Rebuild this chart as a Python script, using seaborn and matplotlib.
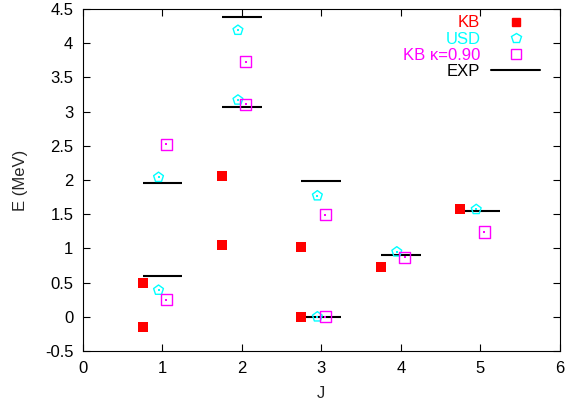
import matplotlib
matplotlib.use("Agg")
import matplotlib.pyplot as plt
import seaborn as sns
import pandas as pd
import numpy as np
from matplotlib.lines import Line2D

# Data
J_kb = [1, 1, 2, 2, 3, 3, 4, 5]
E_kb = [0.49, -0.15, 2.06, 1.05, 1.02, 0.0, 0.73, 1.57]
J_usd = [1, 1, 2, 2, 3, 3, 4, 5]
E_usd = [2.04, 0.39, 4.19, 3.17, 1.77, 0.0, 0.95, 1.57]
J_kbk = [1, 1, 2, 2, 3, 3, 4, 5]
E_kbk = [2.52, 0.25, 3.73, 3.11, 1.49, 0.0, 0.87, 1.24]
J_exp = [1, 1, 2, 2, 3, 3, 4, 5]
E_exp = [1.95, 0.59, 4.38, 3.07, 1.99, 0.0, 0.90, 1.54]

labels = ["KB", "USD", "KB \u03ba=0.90", "EXP"]
colors = ["#ff0000", "#00ffff", "#ff00ff", "#000000"]
x_ticks = [0, 1, 2, 3, 4, 5, 6]
y_ticks = [-0.5, 0, 0.5, 1, 1.5, 2, 2.5, 3, 3.5, 4, 4.5]

sns.set_theme(style="white")
plt.rcParams["font.family"] = ["Liberation Sans", "DejaVu Sans"]
plt.rcParams["font.size"] = 12

fig = plt.figure(figsize=(5.67, 4.0), dpi=100)
ax = fig.add_axes([0.1465, 0.1225, 0.8405, 0.855])

df_kb = pd.DataFrame({"J": np.array(J_kb) - 0.25, "E": E_kb})
df_usd = pd.DataFrame({"J": np.array(J_usd) - 0.05, "E": E_usd})
df_kbk = pd.DataFrame({"J": np.array(J_kbk) + 0.05, "E": E_kbk})

# EXP horizontal levels
ax.hlines(E_exp, np.array(J_exp) - 0.25, np.array(J_exp) + 0.25,
          colors=colors[3], linewidth=1.5, zorder=2)

sns.scatterplot(data=df_kb, x="J", y="E", ax=ax, marker="s", s=42,
                color=colors[0], edgecolor=colors[0], linewidth=0, zorder=3)
sns.scatterplot(data=df_usd, x="J", y="E", ax=ax, marker="p", s=55,
                facecolor="none", edgecolor=colors[1], linewidth=1.0, zorder=3)
sns.scatterplot(data=df_usd, x="J", y="E", ax=ax, marker="s", s=1.5,
                color=colors[1], linewidth=0, zorder=3)
sns.scatterplot(data=df_kbk, x="J", y="E", ax=ax, marker="s", s=64,
                facecolor="none", edgecolor=colors[2], linewidth=1.0, zorder=3)
sns.scatterplot(data=df_kbk, x="J", y="E", ax=ax, marker="s", s=1.5,
                color=colors[2], linewidth=0, zorder=3)

ax.set_xlim(0, 6)
ax.set_ylim(-0.5, 4.5)
ax.set_xticks(x_ticks)
ax.set_xticklabels([str(t) for t in x_ticks])
ax.set_yticks(y_ticks)
ax.set_yticklabels([("%g" % t) for t in y_ticks])
ax.set_xlabel("J", fontsize=12, labelpad=7)
ax.set_ylabel("E (MeV)", fontsize=12, labelpad=12)
ax.tick_params(axis="x", pad=7.5)
ax.tick_params(axis="y", pad=7)
ax.tick_params(direction="in", length=5, width=0.8, top=True, right=True,
               bottom=True, left=True, labelsize=12, colors="#000000")
for sp in ax.spines.values():
    sp.set_color("#000000")
    sp.set_linewidth(0.8)
ax.grid(False)

handles = [
    Line2D([], [], linestyle="none", marker="s", markersize=6.0,
           markerfacecolor=colors[0], markeredgecolor=colors[0]),
    Line2D([], [], linestyle="none", marker="p", markersize=7.0,
           markerfacecolor="none", markeredgecolor=colors[1], markeredgewidth=1.0),
    Line2D([], [], linestyle="none", marker="s", markersize=7.5,
           markerfacecolor="none", markeredgecolor=colors[2], markeredgewidth=1.0),
    Line2D([], [], color=colors[3], linewidth=1.5),
]
leg = ax.legend(handles, labels, loc="upper right", markerfirst=False,
                frameon=False, fontsize=12, labelcolor=colors,
                handlelength=2.95, handletextpad=0.64, labelspacing=0.07,
                borderpad=0, borderaxespad=0,
                bbox_to_anchor=(0.959, 0.981))
for t in leg.get_texts():
    t.set_ha("right")

fig.savefig("out.png", dpi=100)
